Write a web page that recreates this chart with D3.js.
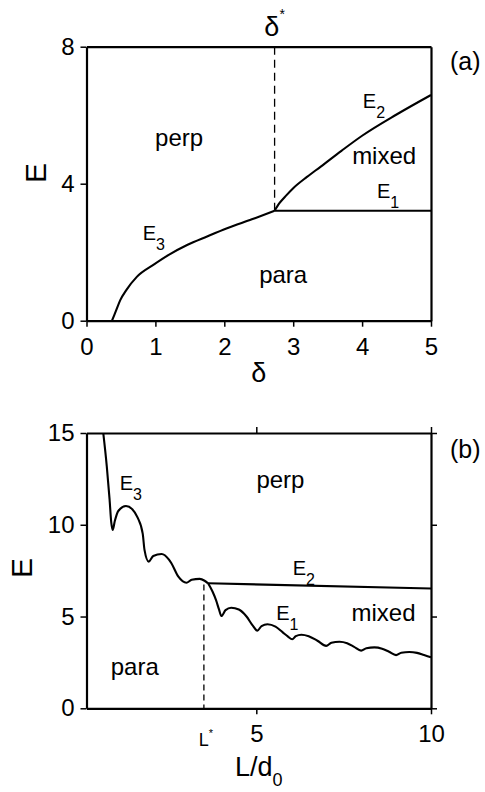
<!DOCTYPE html>
<html>
<head>
<meta charset="utf-8">
<script src="https://cdn.jsdelivr.net/npm/d3@7"></script>
<style>
  body { margin: 0; background: #fff; }
  svg text { font-family: "Liberation Sans", Arial, Helvetica, sans-serif; fill: #000; }
</style>
</head>
<body>
<script>
// ---- panel (a): E vs delta ----
const aE3 = [[0.37, 0], [0.43, 0.3], [0.49, 0.6], [0.58, 0.9], [0.73, 1.28], [0.97, 1.63], [1.2, 1.93], [1.46, 2.21], [1.75, 2.46], [2.04, 2.7], [2.4, 2.96], [2.73, 3.21]];
const aE2 = [[2.73, 3.21], [2.8, 3.43], [2.9, 3.66], [3.0, 3.87], [3.2, 4.2], [3.4, 4.5], [3.7, 4.96], [4.0, 5.4], [4.5, 6.02], [5.0, 6.59]];
const aE1 = [[2.73, 3.21], [5.0, 3.21]];
const deltaStar = 2.73;
const aXTicks = [0, 1, 2, 3, 4, 5];
const aYTicks = [0, 4, 8];
const aRegions = [["perp", 1.344, 5.10], ["mixed", 4.32, 4.58], ["para", 2.855, 1.115]];
const aCurveLabels = [["3", 0.816, 2.36], ["2", 4.01, 6.20], ["1", 4.215, 3.57]];

// ---- panel (b): E vs L/d0 ----
const bE3 = [[0.62, 15], [0.72, 13.2], [0.8, 11.4], [0.85, 10.1], [0.89, 9.72], [0.95, 10.2], [1.05, 10.75], [1.27, 11.02], [1.45, 10.85], [1.6, 10.4], [1.75, 9.5], [1.8, 8.63], [1.92, 7.99], [2.05, 8.3], [2.29, 8.41], [2.5, 8.1], [2.57, 7.9], [2.77, 7.17], [3.0, 6.84], [3.15, 7.0], [3.38, 7.05], [3.52, 6.95], [3.62, 6.81]];
const bE1 = [[3.62, 6.81], [3.75, 6.35], [3.85, 5.88], [3.93, 5.4], [4.0, 5.03], [4.12, 5.35], [4.28, 5.48], [4.5, 5.38], [4.72, 5.0], [4.9, 4.5], [5.03, 4.23], [5.15, 4.48], [5.32, 4.58], [5.55, 4.45], [5.75, 4.15], [5.9, 3.92], [6.03, 3.76], [6.13, 3.93], [6.29, 4.01], [6.5, 3.93], [6.75, 3.68], [7.0, 3.40], [7.15, 3.57], [7.38, 3.63], [7.6, 3.55], [7.8, 3.35], [8.0, 3.14], [8.15, 3.27], [8.38, 3.32], [8.6, 3.25], [8.8, 3.08], [9.0, 2.90], [9.15, 3.03], [9.38, 3.07], [9.6, 3.02], [9.8, 2.9], [10.0, 2.78]];
const bE2 = [[3.62, 6.81], [10.0, 6.53]];
const lStar = 3.5;
const bXTicks = [5, 10];
const bYTicks = [0, 5, 10, 15];
const bRegions = [["perp", 5.69, 12.03], ["mixed", 8.64, 4.78], ["para", 1.52, 1.81]];
const bCurveLabels = [["3", 1.09, 11.9], ["2", 6.04, 7.26], ["1", 5.57, 4.81]];

const width = 485, height = 792;
const left = 86.5, right = 431;

const svg = d3.select("body").append("svg")
  .attr("width", width)
  .attr("height", height);

function panel(opt) {
  const x = d3.scaleLinear().domain(opt.xDomain).range([left, right]);
  const y = d3.scaleLinear().domain(opt.yDomain).range([opt.bottom, opt.top]);
  const g = svg.append("g");
  const fmt = d3.format("d");

  const style = sel => {
    sel.select(".domain").attr("stroke-width", 2.2);
    sel.selectAll(".tick line").attr("stroke-width", 1.5);
    sel.selectAll("text").attr("font-size", 24).attr("font-family", null);
  };

  g.append("g").attr("transform", `translate(${left},0)`)
    .call(d3.axisLeft(y).tickValues(opt.yTicks).tickFormat(fmt).tickSize(6).tickSizeOuter(0).tickPadding(6))
    .call(style);
  g.append("g").attr("transform", `translate(0,${opt.bottom})`)
    .call(d3.axisBottom(x).tickValues(opt.xTicks).tickFormat(fmt).tickSize(6).tickSizeOuter(0).tickPadding(11))
    .call(style);
  g.append("g").attr("transform", `translate(${right},0)`)
    .call(d3.axisRight(y).tickValues(opt.frameTicks ? opt.yTicks : []).tickSize(6).tickSizeOuter(0).tickFormat(""))
    .call(style);
  g.append("g").attr("transform", `translate(0,${opt.top})`)
    .call(d3.axisTop(x).tickValues(opt.frameTicks ? opt.xTicks : []).tickSize(6).tickSizeOuter(0).tickFormat(""))
    .call(style);

  const line = d3.line().x(d => x(d[0])).y(d => y(d[1])).curve(d3.curveMonotoneX);
  opt.curves.forEach(c => {
    g.append("path").datum(c)
      .attr("d", line)
      .attr("fill", "none")
      .attr("stroke", "#000")
      .attr("stroke-width", 2.1)
      .attr("stroke-linejoin", "round");
  });

  // dashed marker
  g.append("line")
    .attr("x1", x(opt.dash[0])).attr("x2", x(opt.dash[0]))
    .attr("y1", y(opt.dash[1])).attr("y2", y(opt.dash[2]))
    .attr("stroke", "#000").attr("stroke-width", 1.3)
    .attr("stroke-dasharray", opt.dashArray);

  g.selectAll("text.region").data(opt.regions).join("text")
    .attr("class", "region")
    .attr("x", d => x(d[1])).attr("y", d => y(d[2]))
    .attr("text-anchor", "middle")
    .attr("font-size", 24)
    .text(d => d[0]);

  const cl = g.selectAll("text.clabel").data(opt.curveLabels).join("text")
    .attr("class", "clabel")
    .attr("x", d => x(d[1])).attr("y", d => y(d[2]))
    .attr("font-size", 20);
  cl.append("tspan").text("E");
  cl.append("tspan").attr("font-size", 16).attr("dy", 10).text(d => d[0]);

  return { x, y, g };
}

const pa = panel({
  xDomain: [0, 5], yDomain: [0, 8], top: 46.7, bottom: 320.7,
  xTicks: aXTicks, yTicks: aYTicks, frameTicks: false,
  curves: [aE3, aE2, aE1],
  dash: [deltaStar, 8, 3.21], dashArray: "8,5",
  regions: aRegions, curveLabels: aCurveLabels
});

const pb = panel({
  xDomain: [0.14, 10], yDomain: [0, 15], top: 433, bottom: 708.3,
  xTicks: bXTicks, yTicks: bYTicks, frameTicks: true,
  curves: [bE3, bE1, bE2],
  dash: [lStar, 6.75, 0], dashArray: "6,4",
  regions: bRegions, curveLabels: bCurveLabels
});

// delta* marker label above panel (a)
const ds = svg.append("text")
  .attr("x", pa.x(deltaStar)).attr("y", 36)
  .attr("text-anchor", "middle")
  .attr("font-size", 27);
ds.append("tspan").text("δ");
ds.append("tspan").attr("font-size", 14).attr("dy", -17).text("*");

// L* marker label under panel (b)
const ls = svg.append("text")
  .attr("x", pb.x(lStar) + 2).attr("y", 746)
  .attr("text-anchor", "middle")
  .attr("font-size", 18);
ls.append("tspan").text("L");
ls.append("tspan").attr("font-size", 11).attr("dy", -9).text("*");

// axis titles
svg.append("text").attr("x", (left + right) / 2).attr("y", 382)
  .attr("text-anchor", "middle").attr("font-size", 27).text("δ");

const lt = svg.append("text").attr("x", (left + right) / 2).attr("y", 776)
  .attr("text-anchor", "middle").attr("font-size", 27);
lt.append("tspan").text("L/d");
lt.append("tspan").attr("font-size", 18).attr("dy", 10).text("0");

svg.append("text")
  .attr("transform", "translate(35.5,173) rotate(-90)")
  .attr("text-anchor", "middle").attr("dominant-baseline", "central")
  .attr("font-size", 30).text("E");
svg.append("text")
  .attr("transform", "translate(21.5,568) rotate(-90)")
  .attr("text-anchor", "middle").attr("dominant-baseline", "central")
  .attr("font-size", 30).text("E");

// panel tags
svg.append("text").attr("x", 450).attr("y", 70).attr("font-size", 25).text("(a)");
svg.append("text").attr("x", 450).attr("y", 458).attr("font-size", 25).text("(b)");
</script>
</body>
</html>
